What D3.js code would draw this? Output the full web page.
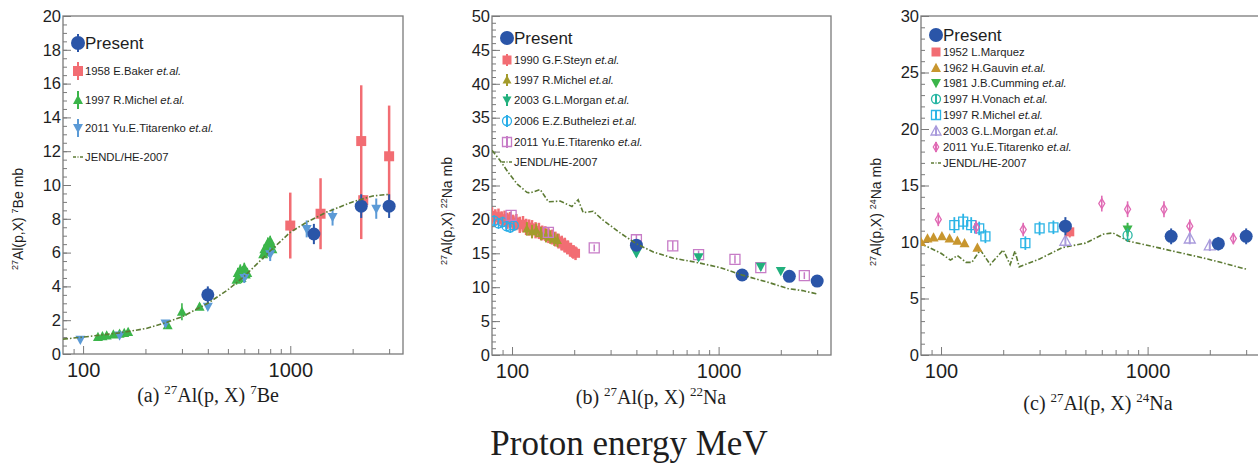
<!DOCTYPE html>
<html><head><meta charset="utf-8">
<script src="https://cdn.jsdelivr.net/npm/d3@7"></script>
<style>body{margin:0;background:#fff}svg{display:block}</style>
</head><body><svg id="c" width="1258" height="466"></svg>
<script>
// ---------- data: [E (MeV), value (mb), err-, err+] ----------
const xDomain = [80, 3500];
const xTickLabels = [100, 1000];
const xMinorTicks = [90, 200, 300, 400, 500, 600, 700, 800, 900, 2000, 3000];
const yTicksA = [0, 2, 4, 6, 8, 10, 12, 14, 16, 18, 20];
const yTicksB = [0, 5, 10, 15, 20, 25, 30, 35, 40, 45, 50];
const yTicksC = [0, 5, 10, 15, 20, 25, 30];

// (a) 7Be
const presentA = [[400,3.5,0.5],[1300,7.1,0.6],[2200,8.75,0.7],[3000,8.75,0.7]];
const bakerA = [[1000,7.6,1.95],[1400,8.3,2.1],[2250,9.1,0.3],[2200,12.6,5.8,3.3],[3000,11.7,2.8,3.0]];
const michelA = [[118,1.0,0.1],[124,1.05,0.1],[130,1.1,0.1],[140,1.15,0.1],[150,1.2,0.1],[158,1.25,0.1],[165,1.3,0.12],
  [256,1.7,0.15],[300,2.5,0.5],[365,2.8,0.2],
  [550,4.4,0.3],[558,4.8,0.3],[566,4.6,0.3],[574,5.0,0.3],[582,4.5,0.3],[590,4.9,0.3],[600,5.1,0.3],[610,4.7,0.3],[620,4.8,0.3],
  [740,5.9,0.3],[750,6.2,0.3],[760,6.0,0.3],[770,6.4,0.3],[780,6.6,0.3],[790,6.3,0.3],[800,6.7,0.3],[810,6.5,0.3],[820,6.2,0.3]];
const titarenkoA = [[97,0.85,0.1],[150,1.1,0.1],[250,1.8,0.15],[400,2.8,0.2],[600,4.5,0.3],[800,5.9,0.4],[1200,7.4,0.5],[1600,8.1,0.5],[2600,8.6,0.6]];
const jendlA = [[80,0.88],[100,1.0],[150,1.25],[200,1.5],[250,1.85],[300,2.2],[400,3.0],[500,3.8],[600,4.6],[700,5.4],[800,6.1],[1000,7.2],[1200,7.8],[1500,8.4],[2000,9.0],[2500,9.35],[3000,9.45]];

// (b) 22Na
const presentB = [[400,16.2,0.8],[1300,11.8,0.6],[2200,11.6,0.6],[3000,10.9,0.6]];
const steynB = [[80,20.6,1.2],[83,20.3,1.2],[86,20.4,1.2],[89,20.0,1.2],[92,20.1,1.2],[95,19.8,1.2],[98,19.9,1.2],[101,19.5,1.2],
  [105,19.6,1.2],[109,19.2,1.2],[113,19.3,1.2],[117,18.9,1.2],[121,18.8,1.2],[125,18.7,1.2],[130,18.4,1.2],[135,18.3,1.2],
  [140,18.0,1.1],[145,17.9,1.1],[150,17.6,1.1],[156,17.4,1.1],[162,17.1,1.1],[168,16.8,1.1],[174,16.5,1.1],[180,16.2,1.1],
  [186,15.9,1.0],[192,15.5,1.0],[198,15.2,1.0],[203,15.0,1.0]];
const michelB = [[118,18.6,1],[125,18.2,1],[131,18.4,1],[138,17.9,1],[146,17.6,1],[153,17.4,1],[160,17.1,1],[166,16.9,1]];
const morganB = [[400,15.0,0.5],[800,14.4,0.5],[1600,13.0,0.4],[2000,12.4,0.4]];
const butheleziB = [[82,19.8,0.8],[86,19.4,0.8],[90,19.6,0.8],[94,19.0,0.8],[98,18.8,0.8],[102,19.1,0.8]];
const titarenkoB = [[99,20.6,0.8],[150,18.1,0.7],[250,15.8,0.5],[400,17.0,0.7],[600,16.1,0.7],[800,14.8,0.6],[1200,14.1,0.6],[1600,12.9,0.5],[2600,11.7,0.5]];
const jendlB = [[80,30.2],[87,28.8],[96,26.9],[106,25.2],[118,24.0],[122,23.9],[137,24.4],[150,22.6],[171,22.7],[195,21.9],[209,22.9],[221,21.0],[247,21.2],[273,20.0],[334,18.0],[400,16.4],[483,15.2],[600,14.3],[800,13.6],[1018,12.9],[1300,11.8],[1790,10.6],[2160,9.8],[2550,9.5],[3000,9.0]];

// (c) 24Na
const presentC = [[400,11.4,0.8],[1300,10.5,0.7],[2200,9.85,0.6],[3000,10.5,0.7]];
const marquezC = [[420,10.9,0.5]];
const gauvinC = [[80,10.0],[86,10.3],[92,10.4],[101,10.5],[110,10.3],[120,10.1],[130,9.9],[150,9.5]];
const cummingC = [[800,11.1,0.6]];
const vonachC = [[800,10.6,0.6]];
const michelC = [[116,11.5,0.7],[128,11.8,0.7],[140,11.5,0.7],[153,11.2,0.6],[164,10.5,0.6],[256,9.9,0.6],[300,11.2,0.6],[350,11.3,0.6]];
const morganC = [[400,10.1,0.5],[1600,10.3,0.5],[2000,9.7,0.5]];
const titarenkoC = [[97,12.0,0.6],[148,11.3,0.6],[250,11.1,0.6],[600,13.4,0.7],[800,12.9,0.7],[1200,12.9,0.7],[1600,11.4,0.6],[2600,10.3,0.5]];
const jendlC = [[80,9.8],[88,9.5],[100,9.0],[111,8.4],[120,8.8],[132,8.2],[141,8.2],[155,9.3],[173,8.0],[200,9.3],[216,8.0],[228,9.2],[239,7.8],[300,8.5],[386,9.5],[500,9.9],[612,10.7],[680,10.8],[800,10.1],[1120,9.5],[1950,8.5],[3000,7.6]];

// ---------- style ----------
const SANS = "'Liberation Sans', Arial, Helvetica, sans-serif";
const SERIF = "'Liberation Serif', 'Times New Roman', serif";
const FRAME = "#7a7a7a", TXT = "#1e1e1e";
const C = {present:"#2a55a8", red:"#f26d73", green:"#3bb54a", lblue:"#5b9ad6", jendl:"#5d7b34",
  olive:"#a39b2b", morganB:"#22b07d", buth:"#2aaee8", titB:"#c77cc7", gold:"#c8962e", vonach:"#27b6a3",
  michC:"#2bb4e6", morganC:"#a99bdc", titC:"#e06ab4"};

const svg = d3.select("#c");

function shape(type, cx, cy, s){
  const h = s/2;
  switch(type){
    case "square": case "osquare": return `M${cx-h},${cy-h}h${s}v${s}h${-s}Z`;
    case "tri": case "otri": return `M${cx},${cy-h*1.05}L${cx+h},${cy+h*0.8}L${cx-h},${cy+h*0.8}Z`;
    case "tridown": return `M${cx},${cy+h*1.05}L${cx+h},${cy-h*0.8}L${cx-h},${cy-h*0.8}Z`;
    case "odiamond": return `M${cx},${cy-h}L${cx+s*0.3},${cy}L${cx},${cy+h}L${cx-s*0.3},${cy}Z`;
  }
}
function marker(g, type, cx, cy, s, color){
  const open = type[0]==="o";
  if (type==="circle" || type==="ocircle"){
    g.append("circle").attr("cx",cx).attr("cy",cy).attr("r",s/2)
      .attr("fill", open?"none":color).attr("stroke",open?color:"none").attr("stroke-width",1.3);
  } else {
    g.append("path").attr("d",shape(type,cx,cy,s))
      .attr("fill", open?"none":color).attr("stroke",open?color:"none").attr("stroke-width",1.3);
  }
}

function drawPanel(p){
  const x = d3.scaleLog().domain(xDomain).range([p.x0, p.x1]);
  const y = d3.scaleLinear().domain([0, p.yTicks[p.yTicks.length-1]]).range([p.y1, p.y0]);
  const g = svg.append("g");
  const cid = "clip"+p.id;
  svg.append("clipPath").attr("id",cid).append("rect")
    .attr("x",p.x0).attr("y",p.y0).attr("width",p.x1-p.x0).attr("height",p.y1-p.y0);

  const yMax = p.yTicks[p.yTicks.length-1];
  const yMin = d3.range(0, yMax+1e-9, p.yMinor);
  g.append("g").attr("transform",`translate(${p.x0},0)`)
    .call(d3.axisLeft(y).tickValues(yMin).tickSizeInner(-4).tickSizeOuter(0).tickFormat(""))
    .call(a=>{a.select(".domain").remove(); a.selectAll("line").attr("stroke",FRAME);});
  g.append("g").attr("transform",`translate(${p.x0},0)`)
    .call(d3.axisLeft(y).tickValues(p.yTicks).tickSizeInner(-8).tickSizeOuter(0).tickPadding(2).tickFormat(d3.format("d")))
    .call(a=>{a.select(".domain").remove(); a.selectAll("line").attr("stroke",FRAME);
      a.selectAll("text").style("font",`16.5px ${SANS}`).attr("fill",TXT);});
  g.append("g").attr("transform",`translate(0,${p.y1})`)
    .call(d3.axisBottom(x).tickValues(xMinorTicks).tickSizeInner(-5).tickSizeOuter(0).tickFormat(""))
    .call(a=>{a.select(".domain").remove(); a.selectAll("line").attr("stroke",FRAME);});
  g.append("g").attr("transform",`translate(0,${p.y1})`)
    .call(d3.axisBottom(x).tickValues(xTickLabels).tickSizeInner(-8).tickSizeOuter(0).tickPadding(9).tickFormat(d3.format("d")))
    .call(a=>{a.select(".domain").remove(); a.selectAll("line").attr("stroke",FRAME);
      a.selectAll("text").style("font",`20px ${SANS}`).attr("fill",TXT);});
  g.append("rect").attr("x",p.x0).attr("y",p.y0).attr("width",p.x1-p.x0).attr("height",p.y1-p.y0)
    .attr("fill","none").attr("stroke",FRAME).attr("stroke-width",1.3);

  const dg = svg.append("g").attr("clip-path",`url(#${cid})`);
  p.series.forEach(s=>{
    if (s.type==="line"){
      dg.append("path").datum(s.data)
        .attr("d", d3.line().x(d=>x(d[0])).y(d=>y(d[1])))
        .attr("fill","none").attr("stroke",s.color).attr("stroke-width",1.6)
        .attr("stroke-dasharray","5,2,1.5,2");
      return;
    }
    s.data.forEach(d=>{
      const [E,v,em,ep0] = d; const ep = ep0===undefined?em:ep0;
      const px = x(E), py = y(v);
      if (em) dg.append("line").attr("x1",px).attr("x2",px).attr("y1",y(v-em)).attr("y2",y(v+ep))
        .attr("stroke",s.color).attr("stroke-width",s.lw||2);
      marker(dg, s.type, px, py, s.size, s.color);
    });
  });

  const L = p.legend;
  L.rows.forEach((r,i)=>{
    const s = r.s, yy = L.ys[i];
    if (s.type==="line"){
      svg.append("line").attr("x1",L.mx-5).attr("x2",L.mx+5).attr("y1",yy).attr("y2",yy)
        .attr("stroke",s.color).attr("stroke-width",1.6).attr("stroke-dasharray","3,1.5,1,1.5");
    } else {
      if (r.bar) svg.append("line").attr("x1",L.mx).attr("x2",L.mx).attr("y1",yy-r.bar).attr("y2",yy+r.bar)
        .attr("stroke",s.color).attr("stroke-width",2);
      marker(svg, s.type, L.mx, yy, r.size || s.size, s.color);
    }
    const big = i===0;
    const t = svg.append("text").attr("x",L.tx).attr("y",yy+(big?6:4))
      .style("font",`${big?17:11.3}px ${SANS}`).attr("fill",TXT);
    t.append("tspan").text(r.label);
    if (r.it) t.append("tspan").attr("font-style","italic").text(" et.al.");
  });

  const yt = svg.append("text").attr("transform",`translate(${p.ytx},${p.yty}) rotate(-90)`)
    .attr("text-anchor","middle").style("font",`14px ${SANS}`).attr("fill",TXT);
  yt.append("tspan").attr("font-size",9).attr("dy",-5).text("27");
  yt.append("tspan").attr("dy",5).text("Al(p,X) ");
  yt.append("tspan").attr("font-size",9).attr("dy",-5).text(p.mass);
  yt.append("tspan").attr("dy",5).text(p.sym+" mb");

  const st = svg.append("text").attr("x",p.stx).attr("y",p.sty).attr("text-anchor","middle")
    .style("font",`20px ${SERIF}`).attr("fill",TXT);
  st.append("tspan").text(p.tag+" ");
  st.append("tspan").attr("font-size",13).attr("dy",-8).text("27");
  st.append("tspan").attr("dy",8).text("Al(p, X) ");
  st.append("tspan").attr("font-size",13).attr("dy",-8).text(p.mass);
  st.append("tspan").attr("dy",8).text(p.sym);
}

// ---- panel a ----
const sA = {
  michel:{data:michelA,type:"tri",color:C.green,size:10,lw:1.6},
  tit:{data:titarenkoA,type:"tridown",color:C.lblue,size:10},
  baker:{data:bakerA,type:"square",color:C.red,size:10,lw:2.5},
  present:{data:presentA,type:"circle",color:C.present,size:13},
  jendl:{data:jendlA,type:"line",color:C.jendl}
};
drawPanel({id:"a",x0:63,x1:403,y0:16,y1:354,yTicks:yTicksA,yMinor:0.5,
  series:[sA.michel,sA.tit,sA.baker,sA.present,sA.jendl],
  legend:{mx:78,tx:85,ys:[43,71,100,128,157],rows:[
    {s:sA.present,label:"Present",size:14,bar:9},
    {s:sA.baker,label:"1958 E.Baker",it:true,bar:9},
    {s:sA.michel,label:"1997 R.Michel",it:true,bar:9},
    {s:sA.tit,label:"2011 Yu.E.Titarenko",it:true,bar:9},
    {s:sA.jendl,label:"JENDL/HE-2007"}]},
  ytx:23,yty:219,mass:"7",sym:"Be",stx:208,sty:402,tag:"(a)"});

// ---- panel b ----
const sB = {
  steyn:{data:steynB,type:"square",color:C.red,size:9,lw:2.5},
  michel:{data:michelB,type:"tri",color:C.olive,size:9},
  buth:{data:butheleziB,type:"ocircle",color:C.buth,size:9,lw:1.5},
  tit:{data:titarenkoB,type:"osquare",color:C.titB,size:10,lw:1.5},
  morgan:{data:morganB,type:"tridown",color:C.morganB,size:10},
  present:{data:presentB,type:"circle",color:C.present,size:13},
  jendl:{data:jendlB,type:"line",color:C.jendl}
};
drawPanel({id:"b",x0:492,x1:831,y0:16,y1:355,yTicks:yTicksB,yMinor:1,
  series:[sB.steyn,sB.michel,sB.buth,sB.tit,sB.morgan,sB.present,sB.jendl],
  legend:{mx:507,tx:514,ys:[38,60,80,100,121,142,162],rows:[
    {s:sB.present,label:"Present",size:14},
    {s:sB.steyn,label:"1990 G.F.Steyn",it:true,bar:6,size:9},
    {s:sB.michel,label:"1997 R.Michel",it:true,bar:6,size:9},
    {s:sB.morgan,label:"2003 G.L.Morgan",it:true,bar:6,size:9},
    {s:sB.buth,label:"2006 E.Z.Buthelezi",it:true,bar:6,size:9},
    {s:sB.tit,label:"2011 Yu.E.Titarenko",it:true,bar:6,size:9},
    {s:sB.jendl,label:"JENDL/HE-2007"}]},
  ytx:452,yty:211,mass:"22",sym:"Na",stx:651,sty:404,tag:"(b)"});

// ---- panel c ----
const sC = {
  gauvin:{data:gauvinC,type:"tri",color:C.gold,size:10},
  michel:{data:michelC,type:"osquare",color:C.michC,size:9,lw:1.8},
  tit:{data:titarenkoC,type:"odiamond",color:C.titC,size:10,lw:1.6},
  morgan:{data:morganC,type:"otri",color:C.morganC,size:11},
  marquez:{data:marquezC,type:"square",color:C.red,size:9},
  cumming:{data:cummingC,type:"tridown",color:C.green,size:10},
  vonach:{data:vonachC,type:"ocircle",color:C.vonach,size:9,lw:1.5},
  present:{data:presentC,type:"circle",color:C.present,size:13},
  jendl:{data:jendlC,type:"line",color:C.jendl}
};
drawPanel({id:"c",x0:921,x1:1260,y0:16,y1:355,yTicks:yTicksC,yMinor:1,
  series:[sC.jendl,sC.gauvin,sC.michel,sC.tit,sC.morgan,sC.marquez,sC.cumming,sC.vonach,sC.present],
  legend:{mx:936,tx:943,ys:[35,52,68,83,99,115,131,147,163],rows:[
    {s:sC.present,label:"Present",size:14},
    {s:sC.marquez,label:"1952 L.Marquez",size:9},
    {s:sC.gauvin,label:"1962 H.Gauvin",it:true,size:10},
    {s:sC.cumming,label:"1981 J.B.Cumming",it:true,size:10},
    {s:sC.vonach,label:"1997 H.Vonach",it:true,bar:5,size:9},
    {s:sC.michel,label:"1997 R.Michel",it:true,bar:5,size:9},
    {s:sC.morgan,label:"2003 G.L.Morgan",it:true,bar:5,size:10},
    {s:sC.tit,label:"2011 Yu.E.Titarenko",it:true,bar:5,size:9},
    {s:sC.jendl,label:"JENDL/HE-2007"}]},
  ytx:881,yty:212,mass:"24",sym:"Na",stx:1098,sty:410,tag:"(c)"});

// common x title
svg.append("text").attr("x",629).attr("y",455).attr("text-anchor","middle")
  .style("font",`35px ${SERIF}`).attr("fill",TXT).text("Proton energy MeV");
</script></body></html>
